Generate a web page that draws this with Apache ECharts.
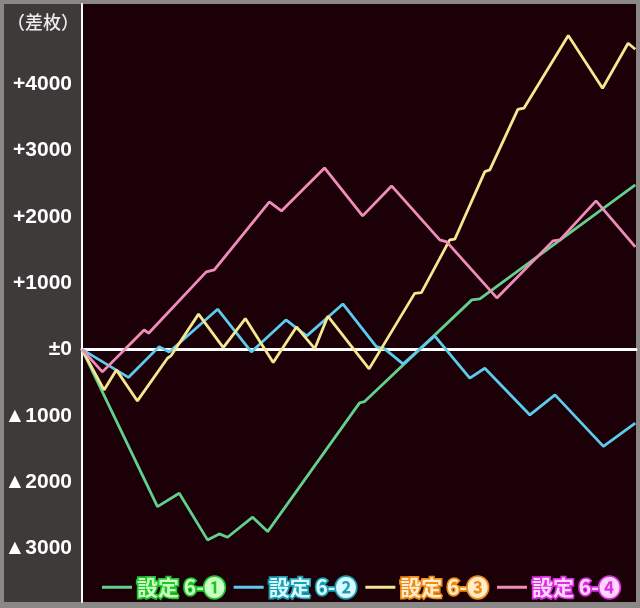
<!DOCTYPE html>
<html>
<head>
<meta charset="utf-8">
<script src="https://cdn.jsdelivr.net/npm/echarts@6/dist/echarts.min.js"></script>
<style>
html,body{margin:0;padding:0;background:#8a8887;}
#c{width:640px;height:608px;}
</style>
</head>
<body>
<div id="c"></div>
<script>
// Series names
const seriesNames = ['設定 6-❶', '設定 6-❷', '設定 6-❸', '設定 6-❹'];
// Points as [games, 差枚]
const green = [[0,0],[1090,-2371],[1404,-2169],[1813,-2873],[1982,-2783],[2102,-2833],[2464,-2531],[2681,-2748],[4008,-807],[4081,-787],[5629,747],[5745,762],[7990,2481]];
const blue = [[0,0],[670,-422],[1114,42],[1259,-38],[1958,606],[2445,-38],[2945,445],[3246,204],[3767,686],[4250,42],[4370,8],[4635,-219],[5093,204],[5600,-434],[5817,-284],[6468,-988],[6830,-686],[7529,-1463],[7990,-1113]];
const yellow = [[0,0],[318,-611],[496,-309],[800,-777],[1234,-133],[1283,-98],[1683,532],[2040,26],[2359,465],[2761,-199],[3097,339],[3361,11],[3550,501],[4146,-294],[4804,845],[4901,857],[5310,1652],[5383,1662],[5817,2682],[5889,2707],[6294,3620],[6381,3638],[7022,4736],[7517,3940],[7886,4618],[7990,4528]];
const pink = [[0,0],[294,-339],[897,294],[962,244],[1794,1169],[1910,1199],[2706,2225],[2880,2089],[3502,2738],[4052,2014],[4471,2466],[5166,1652],[5267,1621],[5991,777],[6801,1637],[6902,1652],[7423,2240],[7990,1546]];
// Y tick labels values
const yTicks = [-3000,-2000,-1000,0,1000,2000,3000,4000];
const yUnit = '（差枚）';

const lineColors = ['#63cf8c','#5ccbec','#f7e690','#f08cbc'];
const textFill = ['#c9ffc0','#d6faff','#ffeccc','#ffd6ff'];
const textStroke = ['#1ec42a','#1a9fb2','#ef8a12','#dc2ee0'];
const datasets = [green, blue, yellow, pink];

const chart = echarts.init(document.getElementById('c'), null, {renderer:'canvas'});
chart.setOption({
  animation:false,
  backgroundColor:'#8a8887',
  graphic:[
    {type:'rect', shape:{x:4,y:4,width:77,height:598}, style:{fill:'#3d3a39'}, z:-10},
    {type:'text', x:43, y:22, style:{text:yUnit, fill:'#ececec', font:'500 18px "Noto Sans CJK JP"', textAlign:'center', textVerticalAlign:'middle'}}
  ],
  grid:{left:82, right:4, top:4, bottom:6, show:true, backgroundColor:'#1c0008', borderWidth:0},
  xAxis:{type:'value', min:0, max:8000,
    axisLine:{show:true, onZero:true, lineStyle:{color:'#ffffff', width:3}},
    axisTick:{show:false}, axisLabel:{show:false}, splitLine:{show:false}},
  yAxis:{type:'value', min:-3810, max:5210,
    axisLine:{show:true, lineStyle:{color:'#ffffff', width:2}},
    axisTick:{show:false}, splitLine:{show:false},
    axisLabel:{customValues:yTicks, margin:10, color:'#ffffff', fontSize:21, fontWeight:'bold', fontFamily:'"Liberation Sans", Arial, sans-serif',
      formatter:function(v){ if(v>0) return '+'+v; if(v===0) return '±0'; return '▲'+Math.abs(v);} }},
  legend:{left:97, top:570, itemWidth:30, itemHeight:3, itemGap:7, icon:'rect',
    data: seriesNames.map((n,i)=>({name:n, textStyle:{color:textFill[i], textBorderColor:textStroke[i], textBorderWidth:3.5, fontSize:21, fontWeight:'bold', fontFamily:'"Noto Sans CJK JP"'}}))},
  series: datasets.map((d,i)=>({name:seriesNames[i], type:'line', data:d, color:lineColors[i], showSymbol:false, symbol:'none',
    lineStyle:{color:lineColors[i], width:2.8}, z:3+i}))
});
</script>
</body>
</html>
